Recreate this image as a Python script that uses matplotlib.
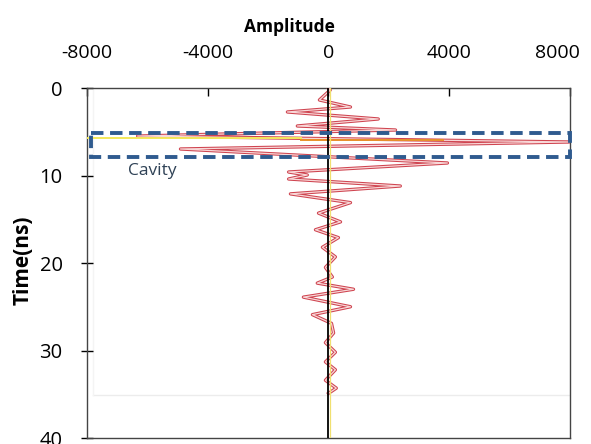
import matplotlib
matplotlib.use("Agg")
import matplotlib.pyplot as plt
from matplotlib.patches import Rectangle
from matplotlib.transforms import ScaledTranslation

plt.rcParams['font.family'] = ['Open Sans', 'DejaVu Sans']

# peaks of the trace: time (ns) and amplitude
time_ns = [0.0, 0.23, 1.37, 2.17, 2.74, 3.54, 4.34, 4.8, 5.49, 6.17, 6.97, 8.57,
           9.6, 9.94, 10.4, 11.2, 12.1, 13.1, 14.3, 15.3, 16.2, 17.1, 18.2, 19.3,
           20.5, 21.6, 22.3, 23.0, 23.9, 25.0, 25.9, 26.9, 28.0, 29.1, 30.2, 31.3,
           32.2, 33.4, 34.3, 34.9]
amplitude = [0, 60, -300, 730, -1360, 1650, -1030, 2220, -6320, 7980, -4900, 3940,
             -1320, -700, -1320, 2380, -1260, 730, -330, 400, -430, 330, -200, 230,
             -100, 130, -370, 830, -830, 730, -530, 100, 170, -100, 230, -100,
             230, -100, 260, 0]

x_ticks = [-8000, -4000, 0, 4000, 8000]
y_ticks = [0, 10, 20, 30, 40]

# cavity box (amplitude from/to, time from/to) and label
cavity_box = (-7850, 7990, 5.15, 7.9)
cavity_label = "Cavity"

fig = plt.figure(figsize=(5.91, 4.44), dpi=100)
ax = fig.add_axes([0.147, 0.0135, 0.8175, 0.7883])

ax.set_xlim(-8000, 8000)
ax.set_ylim(40, 0)

# faint border of the pasted trace image
ax.plot([-7800, 8000], [35.1, 35.1], color='#ececec', lw=1, zorder=1)
ax.plot([-7800, -7800], [0.2, 35.1], color='#f4f4f4', lw=1, zorder=1)

# trace: red outline with pale pink centre
ax.plot(amplitude, time_ns, color='#cf4450', lw=2.4, zorder=3)
ax.plot(amplitude, time_ns, color='#f8d8d8', lw=0.9, zorder=4)

# highlight inside the cavity reflection
ax.plot([-8000, -900], [5.75, 5.75], color='#f3e85a', lw=1.4, zorder=5)
ax.plot([-900, 3800], [5.9, 5.9], color='#e8902a', lw=1.4, zorder=5)

ax.axvline(60, color='#f0e070', lw=0.9, zorder=5)
ax.axvline(0, color='black', lw=1.3, zorder=6)

x0, x1, t0, t1 = cavity_box
box = Rectangle((x0, t0), x1 - x0, t1 - t0, fill=False, edgecolor='#2f5b8f',
                lw=2.8, linestyle=(0, (3.2, 1.7)), clip_on=False, zorder=7)
ax.add_patch(box)
ax.text(-6650, 9.45, cavity_label, fontsize=12.5, color='#2f4256',
        va='center', ha='left', zorder=8)

ax.xaxis.tick_top()
ax.set_xticks(x_ticks)
ax.set_xticklabels([str(v) for v in x_ticks])
ax.set_yticks(y_ticks)
ax.tick_params(axis='x', direction='in', length=6, width=1, pad=19,
               labelsize=14, colors='black', bottom=False)
ax.tick_params(axis='y', direction='inout', length=9, width=1, pad=13,
               labelsize=14.5)

# last top label sits a little inside the figure
last = ax.get_xticklabels()[-1]
last.set_transform(last.get_transform() + ScaledTranslation(-9 / 72, 0, fig.dpi_scale_trans))

for sp in ax.spines.values():
    sp.set_color('#444444')
    sp.set_linewidth(1)

fig.text(289 / 591, 1 - 27 / 444, 'Amplitude', ha='center', va='center',
         fontsize=12.5, fontweight='bold')
fig.text(23 / 591, 1 - 260 / 444, 'Time(ns)', ha='center', va='center',
         fontsize=15, fontweight='bold', rotation=90)

fig.savefig('out.png', dpi=100)
